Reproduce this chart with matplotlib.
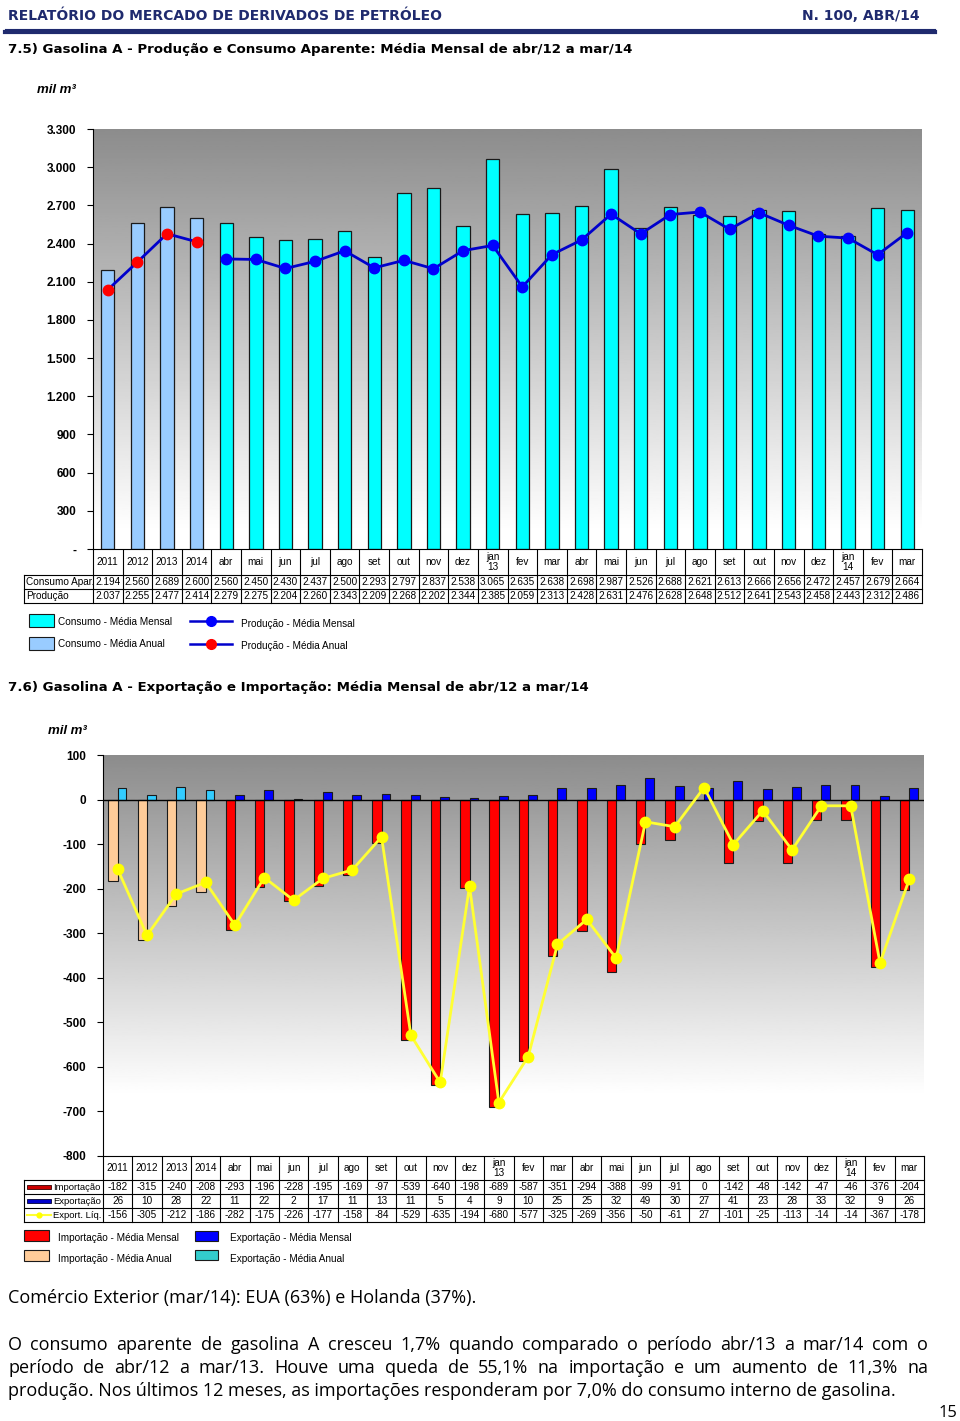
import numpy as np
import matplotlib
matplotlib.use("Agg")
import matplotlib.pyplot as plt
from matplotlib.patches import Rectangle

# ---- dados ----
meses = ["2011", "2012", "2013", "2014", "abr", "mai", "jun", "jul", "ago", "set",
         "out", "nov", "dez", "jan\n13", "fev", "mar", "abr", "mai", "jun", "jul",
         "ago", "set", "out", "nov", "dez", "jan\n14", "fev", "mar"]
consumo = [2194, 2560, 2689, 2600, 2560, 2450, 2430, 2437, 2500, 2293, 2797, 2837, 2538, 3065,
           2635, 2638, 2698, 2987, 2526, 2688, 2621, 2613, 2666, 2656, 2472, 2457, 2679, 2664]
producao = [2037, 2255, 2477, 2414, 2279, 2275, 2204, 2260, 2343, 2209, 2268, 2202, 2344, 2385,
            2059, 2313, 2428, 2631, 2476, 2628, 2648, 2512, 2641, 2543, 2458, 2443, 2312, 2486]
importacao = [-182, -315, -240, -208, -293, -196, -228, -195, -169, -97, -539, -640, -198, -689,
              -587, -351, -294, -388, -99, -91, 0, -142, -48, -142, -47, -46, -376, -204]
exportacao = [26, 10, 28, 22, 11, 22, 2, 17, 11, 13, 11, 5, 4, 9,
              10, 25, 25, 32, 49, 30, 27, 41, 23, 28, 33, 32, 9, 26]
export_liq = [-156, -305, -212, -186, -282, -175, -226, -177, -158, -84, -529, -635, -194, -680,
              -577, -325, -269, -356, -50, -61, 27, -101, -25, -113, -14, -14, -367, -178]
n_anual = 4

W, H = 960, 1421
fig = plt.figure(figsize=(9.6, 14.21), dpi=100)


def rect(x0, y0, x1, y1):
    # caixa em pixels -> fração da figura
    return [x0 / W, 1 - y1 / H, (x1 - x0) / W, (y1 - y0) / H]


def fmt(v):
    return f"{v:,}".replace(",", ".")


page = fig.add_axes([0, 0, 1, 1], zorder=-1)
page.set_xlim(0, W)
page.set_ylim(H, 0)
page.axis("off")

NAVY = "#1F2A6E"
TAB = dict(family="Liberation Sans", fontsize=7.2)
HEAD = dict(family="DejaVu Sans", fontweight="bold")

# ---- cabeçalho ----
page.text(8, 16, "RELATÓRIO DO MERCADO DE DERIVADOS DE PETRÓLEO", color=NAVY,
          fontsize=10, va="center", **HEAD)
page.text(920, 16, "N. 100, ABR/14", color=NAVY, fontsize=10,
          va="center", ha="right", **HEAD)
page.plot([5, 935], [28.5, 28.5], color=NAVY, lw=0.8)
page.plot([5, 935], [31.5, 31.5], color=NAVY, lw=3)

page.text(8, 50, "7.5) Gasolina A - Produção e Consumo Aparente: Média Mensal de abr/12 a mar/14",
          fontsize=9.6, va="center", **HEAD)
page.text(37, 90, "mil m³", fontsize=9.5, fontstyle="italic", fontweight="bold",
          va="center", family="Liberation Sans")

x = np.arange(len(meses))
ncat = len(meses)

# ---- gráfico 7.5 ----
ax1 = fig.add_axes(rect(93, 129, 922, 549))
ax1.set_xlim(-0.5, ncat - 0.5)
ax1.set_ylim(0, 3300)
grad = np.clip(np.linspace(0.55, 1.02, 256), 0, 1).reshape(-1, 1)
ax1.imshow(grad, cmap="gray", vmin=0, vmax=1, extent=[-0.5, ncat - 0.5, 0, 3300],
           aspect="auto", origin="upper", zorder=0)
cores1 = ["#99CCFF"] * n_anual + ["#00FFFF"] * (ncat - n_anual)
ax1.bar(x, consumo, width=0.45, color=cores1, edgecolor="#1a1a1a", lw=0.9, zorder=2)
ax1.plot(x[:n_anual], producao[:n_anual], color="#0000CC", lw=2, marker="o", ms=7.5,
         mfc="#FF0000", mec="#FF0000", zorder=3)
ax1.plot(x[n_anual:], producao[n_anual:], color="#0000CC", lw=2, marker="o", ms=7.5,
         mfc="#0000FF", mec="#0000FF", zorder=3)
yt = np.arange(0, 3301, 300)
ax1.set_yticks(yt)
ax1.set_yticklabels(["-" if v == 0 else fmt(v) for v in yt], fontsize=8.5,
                    fontweight="bold", family="Liberation Sans")
ax1.tick_params(axis="y", direction="out", length=4, pad=8)
ax1.set_xticks([])
for s in ["top", "right"]:
    ax1.spines[s].set_visible(False)

# tabela 7.5
xe = 93 + (922 - 93) * np.arange(ncat + 1) / ncat
for xi in xe:
    page.plot([xi, xi], [549, 603], color="black", lw=0.8)
page.plot([24, 24], [575, 603], color="black", lw=0.8)
for yy in [575, 589, 603]:
    page.plot([24, 922], [yy, yy], color="black", lw=0.8)
for i, m in enumerate(meses):
    cx = (xe[i] + xe[i + 1]) / 2
    page.text(cx, 562, m, ha="center", va="center", linespacing=1.0, **TAB)
    page.text(cx, 582, fmt(consumo[i]), ha="center", va="center", **TAB)
    page.text(cx, 596, fmt(producao[i]), ha="center", va="center", **TAB)
page.text(26, 582, "Consumo Apar.", va="center", **TAB)
page.text(26, 596, "Produção", va="center", **TAB)

# legenda 7.5
page.add_patch(Rectangle((29, 614), 25, 13, fc="#00FFFF", ec="#1a1a1a", lw=0.8))
page.add_patch(Rectangle((29, 637), 25, 13, fc="#99CCFF", ec="#1a1a1a", lw=0.8))
page.text(58, 622, "Consumo - Média Mensal", va="center", **TAB)
page.text(58, 644, "Consumo - Média Anual", va="center", **TAB)
page.plot([190, 232], [621, 621], color="#0000CC", lw=1.8)
page.plot([211], [621], "o", ms=7, color="#0000FF")
page.plot([190, 232], [644, 644], color="#0000CC", lw=1.8)
page.plot([211], [644], "o", ms=7, color="#FF0000")
page.text(241, 624, "Produção - Média Mensal", va="center", **TAB)
page.text(241, 646, "Produção - Média Anual", va="center", **TAB)

# ---- gráfico 7.6 ----
page.text(8, 687, "7.6) Gasolina A - Exportação e Importação: Média Mensal de abr/12 a mar/14",
          fontsize=9.6, va="center", **HEAD)
page.text(48, 731, "mil m³", fontsize=9.5, fontstyle="italic", fontweight="bold",
          va="center", family="Liberation Sans")

ax2 = fig.add_axes(rect(103, 755, 924, 1156))
ax2.set_xlim(-0.5, ncat - 0.5)
ax2.set_ylim(-800, 100)
grad2 = np.clip(np.linspace(0.55, 1.08, 256), 0, 1).reshape(-1, 1)
ax2.imshow(grad2, cmap="gray", vmin=0, vmax=1, extent=[-0.5, ncat - 0.5, -800, 100],
           aspect="auto", origin="upper", zorder=0)
cores_imp = ["#FFCC99"] * n_anual + ["#FF0000"] * (ncat - n_anual)
cores_exp = ["#33CCFF"] * n_anual + ["#0000FF"] * (ncat - n_anual)
ax2.bar(x - 0.16, importacao, width=0.32, color=cores_imp, edgecolor="#1a1a1a", lw=0.8, zorder=2)
ax2.bar(x + 0.15, exportacao, width=0.3, color=cores_exp, edgecolor="#1a1a1a", lw=0.8, zorder=2)
ax2.axhline(0, color="black", lw=1, zorder=2.5)
ax2.plot(x, export_liq, color="#FFFF33", lw=2, marker="o", ms=7.5, mfc="#FFFF00",
         mec="#FFFF00", zorder=3)
yt2 = np.arange(-800, 101, 100)
ax2.set_yticks(yt2)
ax2.set_yticklabels([str(v) for v in yt2], fontsize=8.5, fontweight="bold",
                    family="Liberation Sans")
ax2.tick_params(axis="y", direction="out", length=4, pad=8)
ax2.set_xticks([])
for s in ["top", "right"]:
    ax2.spines[s].set_visible(False)

# tabela 7.6
xe2 = 103 + (924 - 103) * np.arange(ncat + 1) / ncat
for xi in xe2:
    page.plot([xi, xi], [1156, 1222], color="black", lw=0.8)
page.plot([24, 24], [1180, 1222], color="black", lw=0.8)
for yy in [1180, 1194, 1208, 1222]:
    page.plot([24, 924], [yy, yy], color="black", lw=0.8)
for i, m in enumerate(meses):
    cx = (xe2[i] + xe2[i + 1]) / 2
    page.text(cx, 1168, m, ha="center", va="center", linespacing=1.0, **TAB)
    page.text(cx, 1187, str(importacao[i]), ha="center", va="center", **TAB)
    page.text(cx, 1201, str(exportacao[i]), ha="center", va="center", **TAB)
    page.text(cx, 1215, str(export_liq[i]), ha="center", va="center", **TAB)
page.add_patch(Rectangle((27, 1185), 24, 4, fc="#CC0000", ec="#330000", lw=0.6))
page.add_patch(Rectangle((27, 1199), 24, 4, fc="#0000CC", ec="#000033", lw=0.6))
page.plot([27, 51], [1215, 1215], color="#FFFF33", lw=1.5)
page.plot([39], [1215], "o", ms=3.5, color="#FFFF00")
LAB = dict(TAB, fontsize=6.8)
page.text(101, 1187, "Importação", ha="right", va="center", **LAB)
page.text(101, 1201, "Exportação", ha="right", va="center", **LAB)
page.text(101, 1215, "Export. Líq.", ha="right", va="center", **LAB)

# legenda 7.6
page.add_patch(Rectangle((24, 1230), 25, 11, fc="#FF0000", ec="#1a1a1a", lw=0.8))
page.add_patch(Rectangle((24, 1250), 25, 11, fc="#FFCC99", ec="#1a1a1a", lw=0.8))
page.add_patch(Rectangle((195, 1231), 23, 10, fc="#0000FF", ec="#1a1a1a", lw=0.8))
page.add_patch(Rectangle((195, 1250), 23, 10, fc="#33CCCC", ec="#1a1a1a", lw=0.8))
page.text(58, 1238, "Importação - Média Mensal", va="center", **TAB)
page.text(58, 1259, "Importação - Média Anual", va="center", **TAB)
page.text(230, 1238, "Exportação - Média Mensal", va="center", **TAB)
page.text(230, 1259, "Exportação - Média Anual", va="center", **TAB)

# ---- texto ----
TXT = dict(family="Open Sans", fontsize=13)
page.text(8, 1298, "Comércio Exterior (mar/14): EUA (63%) e Holanda (37%).", va="center", **TXT)

linhas = ["O consumo aparente de gasolina A cresceu 1,7% quando comparado o período abr/13 a mar/14 com o",
          "período de abr/12 a mar/13. Houve uma queda de 55,1% na importação e um aumento de 11,3% na",
          "produção. Nos últimos 12 meses, as importações responderam por 7,0% do consumo interno de gasolina."]
r = fig.canvas.get_renderer()
for k, (ln, yy) in enumerate(zip(linhas, [1345, 1368, 1391])):
    if k == len(linhas) - 1:
        page.text(8, yy, ln, va="center", **TXT)
        continue
    palavras = ln.split()
    ts = [page.text(0, yy, p, va="center", **TXT) for p in palavras]
    ws = [t.get_window_extent(r).width for t in ts]
    gap = (928 - 8 - sum(ws)) / (len(palavras) - 1)
    xx = 8
    for t, w in zip(ts, ws):
        t.set_x(xx)
        xx += w + gap

page.text(948, 1413, "15", fontsize=12, family="Open Sans", ha="center", va="center")

fig.savefig("out.png", dpi=100)
